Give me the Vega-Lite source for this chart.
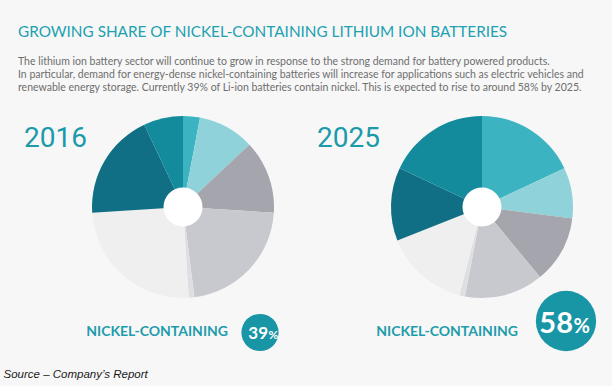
{
  "$schema": "https://vega.github.io/schema/vega-lite/v6.json",
  "width": 612,
  "height": 262,
  "autosize": {"type": "none"},
  "padding": {"left": 0, "top": 76, "right": 0, "bottom": 48},
  "background": "#f7f7f7",
  "config": {"view": {"stroke": null}},
  "title": {
    "text": "GROWING SHARE OF NICKEL-CONTAINING LITHIUM ION BATTERIES",
    "subtitle": [
      "The lithium ion battery sector will continue to grow in response to the strong demand for battery powered products.",
      "In particular, demand for energy-dense nickel-containing batteries will increase for applications such as electric vehicles and",
      "renewable energy storage. Currently 39% of Li-ion batteries contain nickel. This is expected to rise to around 58% by 2025."
    ],
    "anchor": "start",
    "frame": "group",
    "dx": 18,
    "offset": -17,
    "font": "Lato",
    "fontSize": 15.3,
    "fontWeight": "normal",
    "color": "#20a1b0",
    "subtitleFont": "Lato",
    "subtitleFontSize": 10.5,
    "subtitleColor": "#6e6e6e",
    "subtitleLineHeight": 13,
    "subtitlePadding": 16
  },
  "datasets": {
    "slices": [
      {"year": "2016", "segment": "Nickel-containing A", "k": 1, "share": 3},
      {"year": "2016", "segment": "Nickel-containing B", "k": 2, "share": 10},
      {"year": "2016", "segment": "Other C", "k": 3, "share": 13},
      {"year": "2016", "segment": "Other D", "k": 4, "share": 22},
      {"year": "2016", "segment": "Other E", "k": 5, "share": 1},
      {"year": "2016", "segment": "Other F", "k": 6, "share": 25},
      {"year": "2016", "segment": "Nickel-containing G", "k": 7, "share": 19},
      {"year": "2016", "segment": "Nickel-containing H", "k": 8, "share": 7},
      {"year": "2025", "segment": "Nickel-containing A", "k": 1, "share": 18},
      {"year": "2025", "segment": "Nickel-containing B", "k": 2, "share": 9},
      {"year": "2025", "segment": "Other C", "k": 3, "share": 12},
      {"year": "2025", "segment": "Other D", "k": 4, "share": 14},
      {"year": "2025", "segment": "Other E", "k": 5, "share": 1},
      {"year": "2025", "segment": "Other F", "k": 6, "share": 15},
      {"year": "2025", "segment": "Nickel-containing G", "k": 7, "share": 13},
      {"year": "2025", "segment": "Nickel-containing H", "k": 8, "share": 18}
    ],
    "years": [
      {"year": "2016", "label": "NICKEL-CONTAINING", "pct": 39},
      {"year": "2025", "label": "NICKEL-CONTAINING", "pct": 58}
    ]
  },
  "resolve": {"scale": {"x": "independent", "y": "independent", "size": "independent"}},
  "layer": [
    {
      "data": {"name": "slices"},
      "transform": [{"filter": "datum.year == '2016'"}],
      "mark": {"type": "arc", "radius": 91, "strokeWidth": 0},
      "encoding": {
        "x": {
          "field": "year", "type": "nominal",
          "scale": {"type": "point", "domain": ["2016", "2025"], "range": [183, 482], "padding": 0},
          "axis": {
            "title": "Source – Company’s Report",
            "labels": false, "ticks": false, "domain": false, "grid": false,
            "titleX": 3, "titleY": 39, "titleAlign": "left", "titleBaseline": "alphabetic",
            "titleFont": "Liberation Sans", "titleFontStyle": "italic", "titleFontWeight": "normal",
            "titleFontSize": 11.5, "titleColor": "#1a1a1a"
          }
        },
        "theta": {"field": "share", "type": "quantitative", "stack": true},
        "order": {"field": "k", "type": "quantitative"},
        "color": {
          "field": "segment", "type": "nominal", "legend": null,
          "scale": {
            "domain": ["Nickel-containing A", "Nickel-containing B", "Other C", "Other D", "Other E", "Other F", "Nickel-containing G", "Nickel-containing H"],
            "range": ["#3bb3c0", "#8fd2d9", "#a4a5ad", "#c8c9ce", "#dedfe2", "#efeff0", "#106f84", "#148b9d"]
          }
        }
      }
    },
    {
      "data": {"name": "slices"},
      "transform": [{"filter": "datum.year == '2025'"}],
      "mark": {"type": "arc", "radius": 91, "strokeWidth": 0},
      "encoding": {
        "x": {
          "field": "year", "type": "nominal",
          "scale": {"type": "point", "domain": ["2016", "2025"], "range": [183, 482], "padding": 0},
          "axis": null
        },
        "theta": {"field": "share", "type": "quantitative", "stack": true},
        "order": {"field": "k", "type": "quantitative"},
        "color": {"field": "segment", "type": "nominal", "legend": null}
      }
    },
    {
      "data": {"name": "years"},
      "mark": {"type": "point", "shape": "circle", "filled": true, "color": "#ffffff", "opacity": 1, "size": 1521, "strokeWidth": 0},
      "encoding": {
        "x": {
          "field": "year", "type": "nominal",
          "scale": {"type": "point", "domain": ["2016", "2025"], "range": [183, 482], "padding": 0},
          "axis": null
        }
      }
    },
    {
      "data": {"name": "years"},
      "mark": {"type": "text", "align": "left", "baseline": "alphabetic", "font": "Roboto", "fontWeight": "normal", "fontSize": 28, "color": "#1b9aaa"},
      "encoding": {
        "x": {
          "field": "year", "type": "nominal",
          "scale": {"type": "point", "domain": ["2016", "2025"], "range": [24, 317], "padding": 0},
          "axis": null
        },
        "y": {
          "field": "year", "type": "nominal",
          "scale": {"type": "point", "domain": ["2016", "2025"], "range": [71, 71], "padding": 0},
          "axis": null
        },
        "text": {"field": "year"}
      }
    },
    {
      "data": {"name": "years"},
      "mark": {"type": "text", "align": "right", "baseline": "middle", "font": "Lato", "fontWeight": "bold", "fontSize": 14, "color": "#1d9cac"},
      "encoding": {
        "x": {
          "field": "year", "type": "nominal",
          "scale": {"type": "point", "domain": ["2016", "2025"], "range": [228, 518], "padding": 0},
          "axis": null
        },
        "y": {
          "field": "year", "type": "nominal",
          "scale": {"type": "point", "domain": ["2016", "2025"], "range": [256, 256], "padding": 0},
          "axis": null
        },
        "text": {"field": "label"}
      }
    },
    {
      "data": {"name": "years"},
      "mark": {"type": "point", "shape": "circle", "filled": true, "color": "#1896a6", "opacity": 1, "strokeWidth": 0},
      "encoding": {
        "x": {
          "field": "year", "type": "nominal",
          "scale": {"type": "point", "domain": ["2016", "2025"], "range": [260, 566], "padding": 0},
          "axis": null
        },
        "y": {
          "field": "year", "type": "nominal",
          "scale": {"type": "point", "domain": ["2016", "2025"], "range": [256.5, 245], "padding": 0},
          "axis": null
        },
        "size": {
          "field": "pct", "type": "quantitative", "legend": null,
          "scale": {"domain": [39, 58], "range": [1385, 3632]}
        }
      }
    },
    {
      "data": {"name": "years"},
      "mark": {"type": "text", "align": "right", "baseline": "alphabetic", "font": "Lato", "fontWeight": "bold", "color": "#ffffff"},
      "encoding": {
        "x": {
          "field": "year", "type": "nominal",
          "scale": {"type": "point", "domain": ["2016", "2025"], "range": [268, 573], "padding": 0},
          "axis": null
        },
        "y": {
          "field": "year", "type": "nominal",
          "scale": {"type": "point", "domain": ["2016", "2025"], "range": [262.5, 256.5], "padding": 0},
          "axis": null
        },
        "size": {
          "field": "pct", "type": "quantitative", "legend": null,
          "scale": {"domain": [39, 58], "range": [17, 29]}
        },
        "text": {"field": "pct"}
      }
    },
    {
      "data": {"name": "years"},
      "mark": {"type": "text", "align": "left", "baseline": "alphabetic", "font": "Lato", "fontWeight": "bold", "color": "#ffffff", "text": "%"},
      "encoding": {
        "x": {
          "field": "year", "type": "nominal",
          "scale": {"type": "point", "domain": ["2016", "2025"], "range": [268.5, 573.5], "padding": 0},
          "axis": null
        },
        "y": {
          "field": "year", "type": "nominal",
          "scale": {"type": "point", "domain": ["2016", "2025"], "range": [262.5, 256.5], "padding": 0},
          "axis": null
        },
        "size": {
          "field": "pct", "type": "quantitative", "legend": null,
          "scale": {"domain": [39, 58], "range": [12, 20]}
        }
      }
    }
  ]
}
